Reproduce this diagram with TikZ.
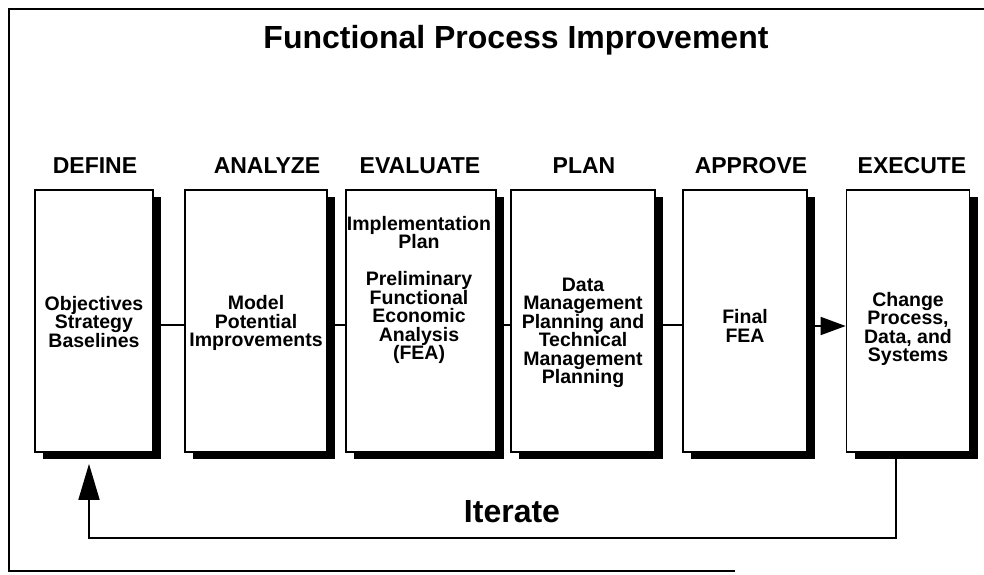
\documentclass[tikz,border=0pt]{standalone}
\usepackage{fontspec}
\setmainfont{Liberation Sans}
\usepackage{tikz}
\usetikzlibrary{positioning}
\usetikzlibrary{arrows.meta,shadows}

\begin{document}
\begin{tikzpicture}[x=1pt,y=-1pt,line width=1.7pt,
                    >={Triangle[length=25pt,width=18pt]},
                    stage/.style={draw,fill=white,minimum width=#1,minimum height=262pt,
                      drop shadow={shadow xshift=8pt,shadow yshift=-7pt,fill=black,opacity=1}},
                    inbox/.style={align=center,inner sep=0pt,
                      font=\bfseries\fontsize{19.5}{18.5}\selectfont},
                    head/.style={anchor=base,font=\bfseries\fontsize{23}{26}\selectfont},
                    big/.style={anchor=base,font=\bfseries\fontsize{32}{36}\selectfont}]
\useasboundingbox (0,0) rectangle (984,574);
\draw (984,9) -- (9,9) -- (9,571) -- (735,571);
\node[big] (title) at (516,48) {Functional Process Improvement};
\node[stage=118pt] (define)   at (94,321)  {};
\node[stage=142pt] (analyze)  at (256,321) {};
\node[stage=150pt] (evaluate) at (421,321) {};
\node[stage=144pt] (plan)     at (583,321) {};
\node[stage=124pt] (approve)  at (745,321) {};
\node[stage=123pt] (execute)  at (908,321) {};
\node[head] (hdefine)   at (95,173)  {DEFINE};
\node[head] (hanalyze)  at (267,173) {ANALYZE};
\node[head] (hevaluate) at (420,173) {EVALUATE};
\node[head] (hplan)     at (584,173) {PLAN};
\node[head] (happrove)  at (751,173) {APPROVE};
\node[head] (hexecute)  at (912,173) {EXECUTE};
\node[inbox] (tdefine)   at (94,322)  {Objectives\\Strategy\\Baselines};
\node[inbox] (tanalyze)  at (256,323) {Model\\Potential\\Improvements};
\node[inbox] (tevaluate) at (419,290) {Implementation\\Plan\\[18.5pt]Preliminary\\Functional\\Economic\\Analysis\\(FEA)};
\node[inbox] (tplan)     at (583,333) {Data\\Management\\Planning and\\Technical\\Management\\Planning};
\node[inbox] (tapprove)  at (745,326) {Final\\FEA};
\node[inbox] (texecute)  at (908,329) {Change\\Process,\\Data, and\\Systems};
\draw ([yshift=-4pt]define.east)   -- ([yshift=-4pt]analyze.west);
\draw ([yshift=-4pt]analyze.east)  -- ([yshift=-4pt]evaluate.west);
\draw ([yshift=-4pt]evaluate.east) -- ([yshift=-4pt]plan.west);
\draw ([yshift=-4pt]plan.east)     -- ([yshift=-4pt]approve.west);
\draw[->] ([yshift=-5pt]approve.east) -- ([yshift=-5pt]execute.west);
\draw[->,>={Triangle[length=36pt,width=21pt]},shorten >=11pt]
  ([xshift=-12pt]execute.south) -- ++(0,85) -| ([xshift=-5pt]define.south);
\node[big] (iterate) at (512,522) {Iterate};
\end{tikzpicture}
\end{document}
